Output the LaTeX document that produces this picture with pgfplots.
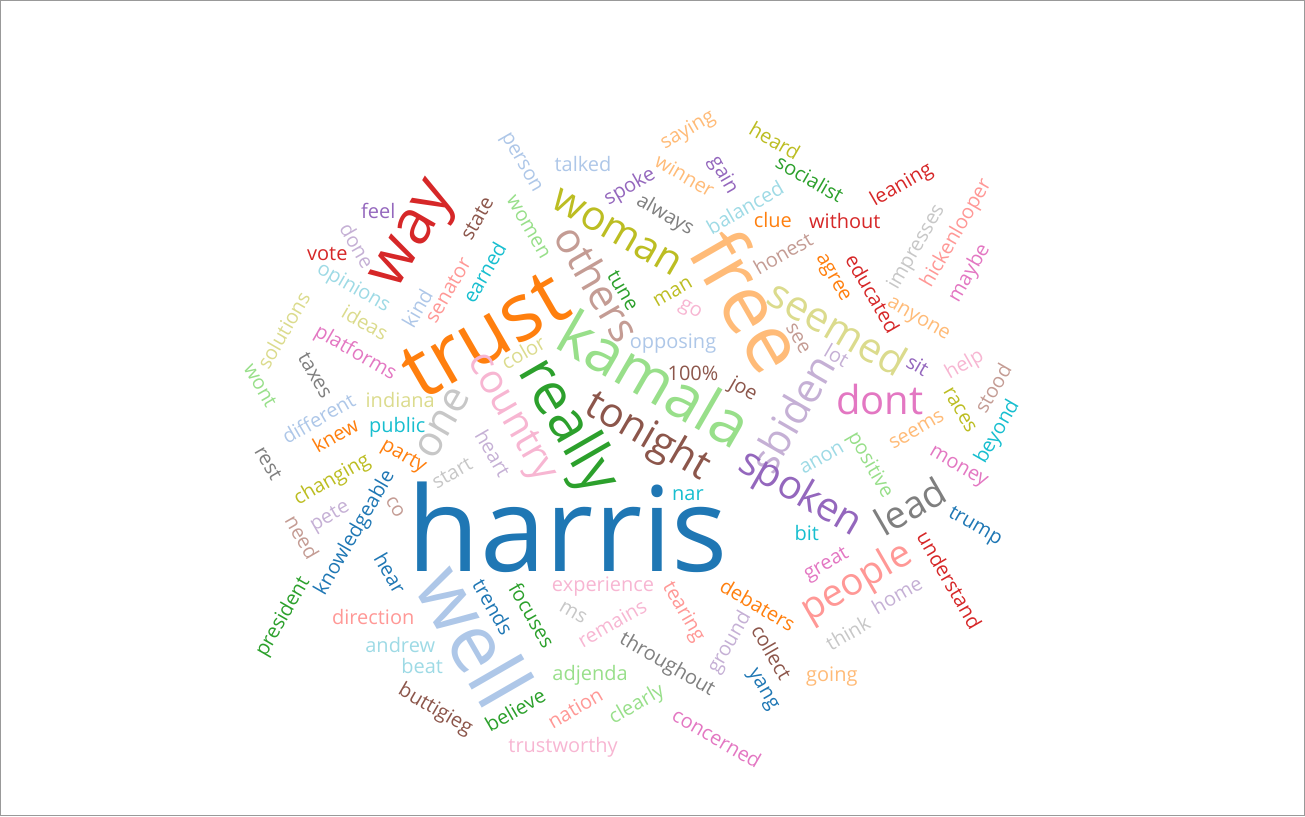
\documentclass[border=0pt]{standalone}
\usepackage{fontspec}
\setmainfont{Open Sans}
\usepackage{pgfplots}
\pgfplotsset{compat=1.18}
\definecolor{tb}{HTML}{1F77B4}
\definecolor{tlb}{HTML}{AEC7E8}
\definecolor{tor}{HTML}{FF7F0E}
\definecolor{tlo}{HTML}{FFBB78}
\definecolor{tg}{HTML}{2CA02C}
\definecolor{tlg}{HTML}{98DF8A}
\definecolor{trd}{HTML}{D62728}
\definecolor{tlr}{HTML}{FF9896}
\definecolor{tp}{HTML}{9467BD}
\definecolor{tlp}{HTML}{C5B0D5}
\definecolor{tbr}{HTML}{8C564B}
\definecolor{tlbr}{HTML}{C49C94}
\definecolor{tpk}{HTML}{E377C2}
\definecolor{tlpk}{HTML}{F7B6D2}
\definecolor{tgy}{HTML}{7F7F7F}
\definecolor{tlgy}{HTML}{C7C7C7}
\definecolor{tol}{HTML}{BCBD22}
\definecolor{tlol}{HTML}{DBDB8D}
\definecolor{tc}{HTML}{17BECF}
\definecolor{tlc}{HTML}{9EDAE5}
% \W{x}{y}{size pt}{angle}{colour}{word}
\newcommand{\W}[6]{\addplot[draw=none, mark=none, nodes near coords,
  point meta=explicit symbolic,
  every node near coord/.append style={anchor=center, inner sep=0pt,
    rotate=#4, text=#5, font=\fontsize{#3}{#3}\selectfont}]
  coordinates {(#1,#2) [#6]};}
\begin{document}
\begin{tikzpicture}
\begin{axis}[
  width=652.5pt, height=408pt, scale only axis,
  xmin=0, xmax=1305, ymin=0, ymax=816, y dir=reverse,
  ticks=none, axis line style={draw=gray!80, line width=0.6pt},
  clip=false,
]
\W{568}{527}{59}{0}{tb}{harris}
\W{485}{335}{40}{30}{tor}{trust}
\W{750}{300}{40}{-60}{tlo}{free}
\W{475}{635}{40}{-60}{tlb}{well}
\W{655}{378}{31}{-30}{tlg}{kamala}
\W{567}{427}{29}{-60}{tg}{really}
\W{417}{237}{31}{60}{trd}{way}
\W{617}{232}{20.5}{-30}{tol}{woman}
\W{598}{283}{21}{-60}{tlbr}{others}
\W{510}{418}{20}{-60}{tlpk}{country}
\W{443}{423}{21}{60}{tlgy}{one}
\W{647}{437}{20.5}{-30}{tbr}{tonight}
\W{838}{327}{20.5}{-30}{tlol}{seemed}
\W{792}{413}{20.5}{60}{tlp}{sbiden}
\W{880}{399}{20}{0}{tpk}{dont}
\W{800}{494}{20}{-30}{tp}{spoken}
\W{910}{506}{19}{30}{tgy}{lead}
\W{857}{583}{19}{30}{tlr}{people}
\W{378}{211}{10}{0}{tp}{feel}
\W{357}{245}{10}{-60}{tlp}{done}
\W{327}{254}{10}{0}{trd}{vote}
\W{477}{218}{10}{60}{tbr}{state}
\W{484}{272}{10}{60}{tc}{earned}
\W{448}{290}{10}{60}{tlr}{senator}
\W{417}{308}{10}{60}{tlb}{kind}
\W{353}{288}{10}{-30}{tlc}{opinions}
\W{283}{330}{10}{60}{tlol}{solutions}
\W{365}{322}{10}{-30}{tlol}{ideas}
\W{520}{163}{10}{-60}{tlb}{person}
\W{583}{164}{10}{0}{tlb}{talked}
\W{688}{130}{10}{30}{tlo}{saying}
\W{685}{175}{10}{-30}{tlo}{winner}
\W{723}{175}{10}{-60}{tp}{gain}
\W{630}{187}{10}{30}{tp}{spoke}
\W{665}{215}{10}{-30}{tgy}{always}
\W{745}{207}{10}{30}{tlc}{balanced}
\W{528}{227}{10}{-60}{tlg}{women}
\W{623}{290}{10}{-60}{tg}{tune}
\W{673}{292}{10}{30}{tol}{man}
\W{690}{310}{10}{-30}{tlpk}{go}
\W{775}{140}{10}{-30}{tol}{heard}
\W{810}{178}{10}{-30}{tg}{socialist}
\W{902}{185}{10}{30}{trd}{leaning}
\W{773}{220}{10}{0}{tor}{clue}
\W{845}{221}{10}{0}{trd}{without}
\W{783}{253}{10}{30}{tlbr}{honest}
\W{832}{278}{10}{-60}{tor}{agree}
\W{873}{293}{10}{-60}{trd}{educated}
\W{917}{247}{10}{60}{tlgy}{impresses}
\W{957}{233}{10}{60}{tlr}{hickenlooper}
\W{970}{273}{10}{60}{tpk}{maybe}
\W{918}{320}{10}{-30}{tlo}{anyone}
\W{355}{353}{10}{-30}{tpk}{platforms}
\W{260}{385}{10}{-60}{tlg}{wont}
\W{315}{375}{10}{-60}{tgy}{taxes}
\W{400}{400}{10}{0}{tlol}{indiana}
\W{318}{418}{10}{30}{tlb}{different}
\W{335}{435}{10}{30}{tor}{knew}
\W{397}{427}{10}{0}{tc}{public}
\W{268}{463}{10}{-60}{tgy}{rest}
\W{403}{457}{10}{-30}{tor}{party}
\W{332}{480}{10}{30}{tol}{changing}
\W{452}{473}{10}{30}{tlgy}{start}
\W{493}{453}{10}{-60}{tlp}{heart}
\W{330}{517}{10}{30}{tlp}{pete}
\W{355}{533}{10}{60}{tb}{knowledgeable}
\W{395}{507}{10}{-60}{tlbr}{co}
\W{302}{537}{10}{-60}{tlbr}{need}
\W{523}{352}{10}{30}{tlol}{color}
\W{673}{343}{10}{0}{tlb}{opposing}
\W{693}{373}{10}{0}{tbr}{100\%}
\W{743}{390}{10}{-30}{tbr}{joe}
\W{688}{495}{10}{0}{tc}{nar}
\W{798}{338}{10}{-60}{tlbr}{see}
\W{837}{355}{10}{-30}{tlp}{lot}
\W{918}{365}{10}{-30}{tp}{sit}
\W{965}{365}{10}{30}{tlpk}{help}
\W{993}{388}{10}{60}{tlbr}{stood}
\W{960}{410}{10}{-60}{tol}{races}
\W{998}{432}{10}{60}{tc}{beyond}
\W{917}{430}{10}{30}{tlo}{seems}
\W{870}{465}{10}{-60}{tlg}{positive}
\W{822}{458}{10}{30}{tlc}{anon}
\W{958}{468}{10}{-30}{tpk}{money}
\W{975}{527}{10}{-30}{tb}{trump}
\W{807}{533}{10}{0}{tc}{bit}
\W{283}{617}{10}{60}{tg}{president}
\W{390}{573}{10}{-60}{tb}{hear}
\W{373}{617}{10}{0}{tlr}{direction}
\W{400}{645}{10}{0}{tlc}{andrew}
\W{422}{666}{10}{0}{tlc}{beat}
\W{435}{710}{10}{-30}{tbr}{buttigieg}
\W{493}{607}{10}{-60}{tb}{trends}
\W{603}{587}{10}{0}{tlpk}{experience}
\W{532}{615}{10}{-60}{tg}{focuses}
\W{573}{613}{10}{-30}{tlgy}{ms}
\W{612}{623}{10}{30}{tlpk}{remains}
\W{683}{612}{10}{-60}{tlr}{tearing}
\W{758}{605}{10}{-30}{tor}{debaters}
\W{730}{643}{10}{60}{tlp}{ground}
\W{772}{652}{10}{-60}{tbr}{collect}
\W{667}{665}{10}{-30}{tgy}{throughout}
\W{590}{675}{10}{0}{tlg}{adjenda}
\W{515}{710}{10}{30}{tg}{believe}
\W{575}{708}{10}{30}{tlr}{nation}
\W{637}{705}{10}{30}{tlg}{clearly}
\W{563}{747}{10}{0}{tlpk}{trustworthy}
\W{717}{738}{10}{-30}{tpk}{concerned}
\W{762}{690}{10}{-60}{tb}{yang}
\W{827}{565}{10}{30}{tpk}{great}
\W{897}{595}{10}{30}{tlp}{home}
\W{950}{580}{10}{-60}{trd}{understand}
\W{848}{633}{10}{30}{tlgy}{think}
\W{832}{677}{10}{0}{tlo}{going}
\end{axis}
\end{tikzpicture}
\end{document}
